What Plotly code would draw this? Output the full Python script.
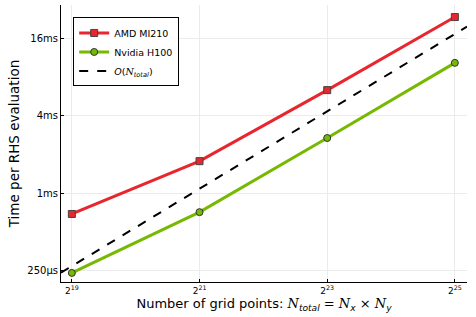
import plotly.graph_objects as go
import math

n_points = [2**19, 2**21, 2**23, 2**25]
amd_ms = [0.687, 1.77, 6.32, 23.4]
nvidia_ms = [0.239, 0.71, 2.68, 10.3]
ref_x = [2**18.83, 2**25.19]
ref_ms = [0.27 * 2**(-0.17), 0.27 * 2**(6.19)]

x_tickvals = [2**19, 2**21, 2**23, 2**25]
x_ticktext = ["2<sup>19</sup>", "2<sup>21</sup>", "2<sup>23</sup>", "2<sup>25</sup>"]
y_tickvals = [0.25, 1, 4, 16]
y_ticktext = ["250μs", "1ms", "4ms", "16ms"]

NI = "<span style='font-family:DejaVu Serif'><i>N</i></span>"

fig = go.Figure()
fig.add_trace(go.Scatter(
    x=n_points, y=amd_ms, name="AMD MI210", mode="lines+markers",
    line=dict(color="#e8262e", width=3),
    marker=dict(symbol="square", size=7, color="#e8262e", line=dict(color="#444", width=1)),
))
fig.add_trace(go.Scatter(
    x=n_points, y=nvidia_ms, name="Nvidia H100", mode="lines+markers",
    line=dict(color="#76b900", width=3),
    marker=dict(symbol="circle", size=7, color="#76b900", line=dict(color="#333", width=1)),
))
fig.add_trace(go.Scatter(
    x=ref_x, y=ref_ms, name="<i>O</i>(" + NI + "<sub><i>total</i></sub>)", mode="lines",
    line=dict(color="black", width=2, dash="dash"),
))

fig.update_layout(
    width=476, height=317,
    margin=dict(l=61, r=9, t=5, b=35),
    paper_bgcolor="white", plot_bgcolor="white",
    font=dict(family="DejaVu Sans", size=10, color="black"),
    showlegend=True,
    legend=dict(x=0.03, y=0.955, xanchor="left", yanchor="top",
                bgcolor="white", bordercolor="black", borderwidth=1,
                font=dict(size=9.5), tracegroupgap=0, itemwidth=30),
    xaxis=dict(
        type="log", range=[math.log10(2**18.83), math.log10(2**25.19)],
        tickvals=x_tickvals, ticktext=x_ticktext, automargin=False,
        showgrid=True, gridcolor="#ebebeb", gridwidth=1,
        showline=True, linecolor="black", linewidth=1,
        ticks="inside", ticklen=3, tickcolor="black",
        zeroline=False, tickfont=dict(size=9),
        title=dict(text="Number of grid points: " + NI + "<sub><i>total</i></sub> = " + NI + "<sub><i>x</i></sub> × " + NI + "<sub><i>y</i></sub>",
                   font=dict(size=13), standoff=2),
    ),
    yaxis=dict(
        type="log", range=[math.log10(2**-2.30), math.log10(2**4.86)],
        tickvals=y_tickvals, ticktext=y_ticktext, automargin=False,
        showgrid=True, gridcolor="#ebebeb", gridwidth=1,
        showline=True, linecolor="black", linewidth=1,
        ticks="inside", ticklen=3, tickcolor="black",
        zeroline=False, tickfont=dict(size=10),
        title=dict(text="Time per RHS evaluation", font=dict(size=13.5), standoff=4),
    ),
)
fig.write_html("out.html", config={"displayModeBar": False},
               post_script="document.body.style.margin='0';")
